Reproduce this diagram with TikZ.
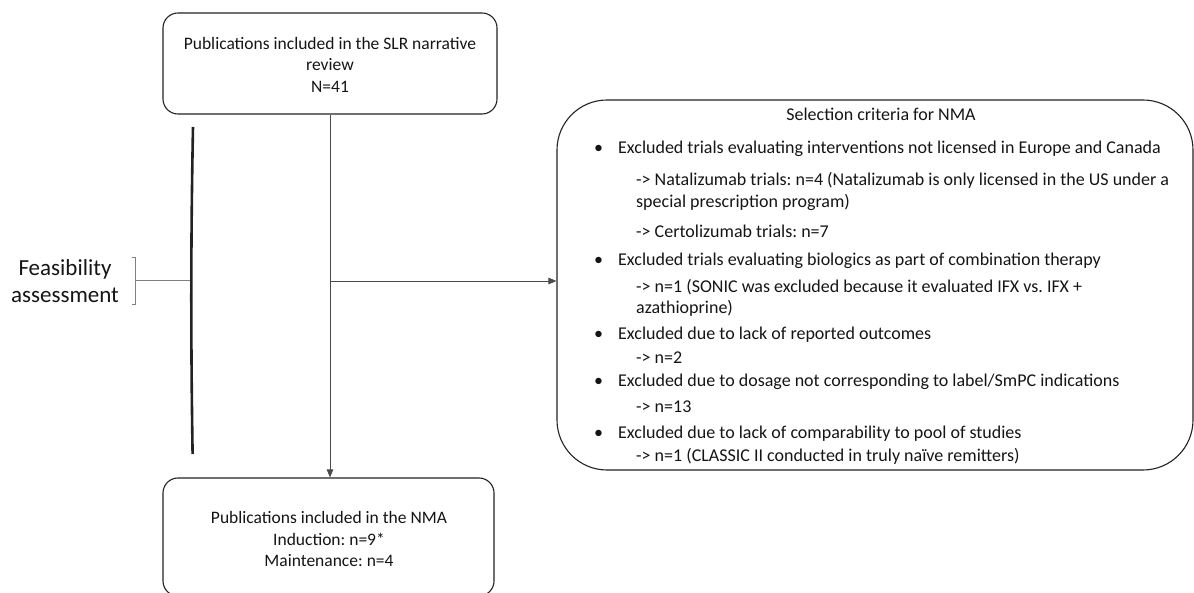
\documentclass[tikz,border=0pt]{standalone}
\usepackage{fontspec}
\setmainfont{Carlito}
\usetikzlibrary{arrows.meta}
\definecolor{ink}{HTML}{151515}
\definecolor{edge}{HTML}{222222}
\definecolor{wire}{HTML}{4A4A4A}
\begin{document}
\frenchspacing
\begin{tikzpicture}[x=1pt,y=-1pt,
  box/.style={draw=edge, line width=1.1pt, rounded corners=15pt, inner sep=0pt},
  wireline/.style={draw=wire, line width=0.8pt},
  arr/.style={wireline, -{Triangle[length=8pt,width=6.5pt]}},
  body/.style={font=\fontsize{18}{22}\selectfont, text=ink, inner sep=0pt, anchor=base west},
  centred/.style={font=\fontsize{17.5}{21.5}\selectfont, text=ink, align=center, inner sep=0pt},
]
\useasboundingbox (0,0) rectangle (1194,593);

% top and bottom publication boxes
\node[box, minimum width=334pt, minimum height=101pt] (slr) at (330,63.5) {};
\node[centred] (slrtxt) at (330,64.5) {Publications included in the SLR narrative\\review\\N=41};

\node[box, minimum width=331pt, minimum height=118pt] (nma) at (328.5,537) {};
\node[centred] (nmatxt) at (329,539) {Publications included in the NMA\\Induction: n=9*\\Maintenance: n=4};

% selection criteria box
\node[box, rounded corners=50pt, minimum width=636pt, minimum height=370pt] (sel) at (875,285) {};
\node[font=\fontsize{18}{22}\selectfont, text=ink, inner sep=0pt, anchor=base] (title) at (881,121) {Selection criteria for NMA};

% bullet points
\foreach \n/\y in {1/154, 2/266, 3/340, 4/387, 5/438}
  \node[body] (dot\n) at (594,\y) {\textbullet};

\node[body] (c1) at (618,154) {Excluded trials evaluating interventions not licensed in Europe and Canada};
\node[body] (c1a) at (636,186) {-> Natalizumab trials: n=4 (Natalizumab is only licensed in the US under a};
\node[body] (c1b) at (636,208) {special prescription program)};
\node[body] (c1c) at (636,238) {-> Certolizumab trials: n=7};
\node[body] (c2) at (618,266) {Excluded trials evaluating biologics as part of combination therapy};
\node[body] (c2a) at (636,293) {-> n=1 (SONIC was excluded because it evaluated IFX vs. IFX +};
\node[body] (c2b) at (636,314) {azathioprine)};
\node[body] (c3) at (618,340) {Excluded due to lack of reported outcomes};
\node[body] (c3a) at (636,364) {-> n=2};
\node[body] (c4) at (618,387) {Excluded due to dosage not corresponding to label/SmPC indications};
\node[body] (c4a) at (636,413) {-> n=13};
\node[body] (c5) at (618,438) {Excluded due to lack of comparability to pool of studies};
\node[body] (c5a) at (636,461) {-> n=1 (CLASSIC II conducted in truly naïve remitters)};

% feasibility assessment bracket
\node[font=\fontsize{23}{27}\selectfont, text=ink, align=center, inner sep=0pt] (feas) at (65,281.5) {Feasibility\\assessment};
\coordinate (bktTop) at (132,257);
\coordinate (bktBot) at (132,304);
\coordinate (bkt) at (135,280);
\coordinate (bar) at (191.5,280);
\draw[draw=gray, line width=0.8pt] (bktTop) -- ++(3,0) -- ++(0,47) -- (bktBot);
\draw[draw=gray, line width=0.8pt] (bkt) -- (bar);

% long vertical brace stroke
\draw[edge, line width=2.6pt] (193,127) .. controls (190.8,240) and (190.8,340) .. (192.6,454);

% connectors
\coordinate (split) at (330,281);
\draw[arr] (slr.south) -- (slr.south |- nma.north);
\draw[arr] (split) -- (split -| sel.west);
\end{tikzpicture}
\end{document}
